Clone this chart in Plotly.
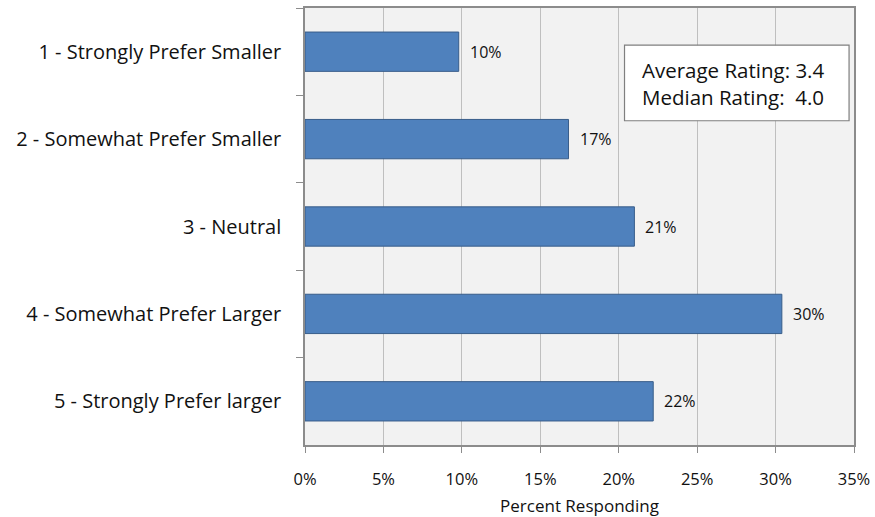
import plotly.graph_objects as go

# Survey responses: preference for size
categories = [
    "1 - Strongly Prefer Smaller",
    "2 - Somewhat Prefer Smaller",
    "3 - Neutral",
    "4 - Somewhat Prefer Larger",
    "5 - Strongly Prefer larger",
]
percent = [9.8, 16.8, 21.0, 30.4, 22.2]
x_ticks = [0, 5, 10, 15, 20, 25, 30, 35]
x_tick_labels = [f"{v}%" for v in x_ticks]
summary_lines = ["Average Rating: 3.4", "Median Rating:  4.0"]

FONT = "Open Sans, Noto Sans, sans-serif"
TEXT = "#111111"

fig = go.Figure()
fig.add_trace(go.Bar(
    y=categories,
    x=percent,
    orientation="h",
    width=0.45,
    marker=dict(color="#4f81bd", line=dict(color="#385d8a", width=1)),
    hoverinfo="x+y",
))

# value labels just past each bar end
for cat, val in zip(categories, percent):
    fig.add_annotation(
        x=val, y=cat, xref="x", yref="y",
        text=f"{val:.0f}%", showarrow=False,
        xanchor="left", xshift=9,
        font=dict(family=FONT, size=16, color=TEXT),
    )

# summary box
fig.add_shape(
    type="rect", xref="paper", yref="paper",
    x0=0.582, x1=0.991, y0=0.742, y1=0.915,
    line=dict(color="#7f7f7f", width=1.2), fillcolor="white", layer="above",
)
fig.add_annotation(
    xref="paper", yref="paper", x=0.610, y=0.828,
    xanchor="left", yanchor="middle", align="left",
    text="<br>".join(summary_lines), showarrow=False,
    font=dict(family=FONT, size=20.5, color=TEXT),
)

fig.update_layout(
    width=875, height=517,
    margin=dict(l=305, r=21, t=8, b=72),
    paper_bgcolor="white",
    plot_bgcolor="#f2f2f2",
    showlegend=False,
    font=dict(family=FONT, color=TEXT),
    xaxis=dict(
        range=[0, 35],
        tickvals=x_ticks, ticktext=x_tick_labels,
        showgrid=True, gridcolor="#bfbfbf", gridwidth=1.3,
        zeroline=False,
        showline=True, linecolor="#8c8c8c", linewidth=1.5, mirror=True,
        ticks="outside", ticklen=6, tickcolor="#8c8c8c",
        ticklabelstandoff=12,
        tickfont=dict(family=FONT, size=16.5),
        title=dict(text="Percent Responding", font=dict(family=FONT, size=17), standoff=14),
        automargin=False,
        fixedrange=True,
    ),
    yaxis=dict(
        type="category",
        categoryorder="array", categoryarray=categories,
        autorange="reversed",
        showgrid=False, zeroline=False,
        showline=True, linecolor="#8c8c8c", linewidth=1.5, mirror=True,
        ticks="outside", tickson="boundaries", ticklen=7, tickcolor="#8c8c8c",
        ticklabelstandoff=18,
        tickfont=dict(family=FONT, size=20),
        automargin=False,
        fixedrange=True,
    ),
)

fig.write_html("out.html")
